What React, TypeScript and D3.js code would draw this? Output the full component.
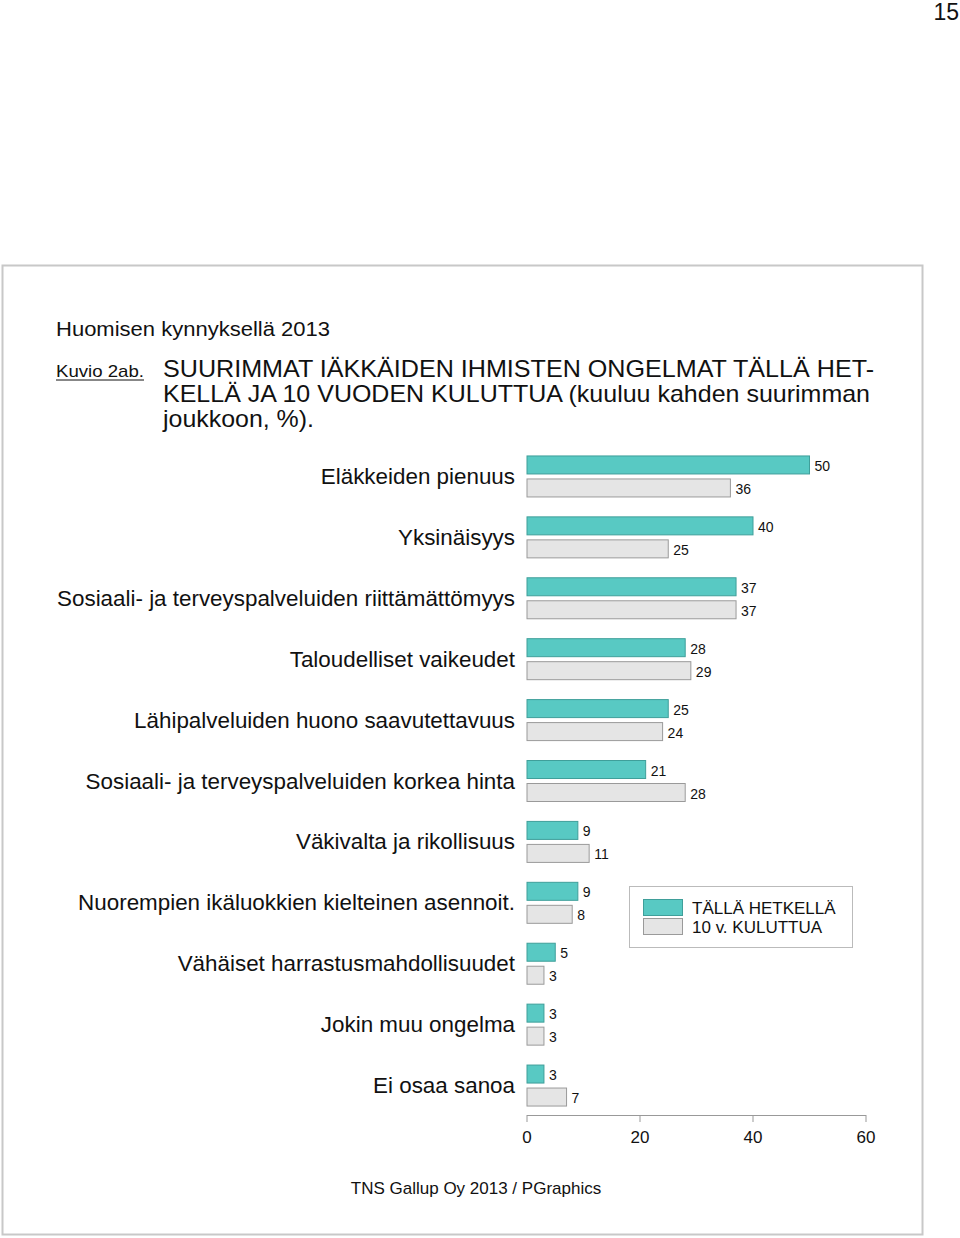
import React from "react";
import * as d3 from "d3";

const categories = [
  "Eläkkeiden pienuus",
  "Yksinäisyys",
  "Sosiaali- ja terveyspalveluiden riittämättömyys",
  "Taloudelliset vaikeudet",
  "Lähipalveluiden huono saavutettavuus",
  "Sosiaali- ja terveyspalveluiden korkea hinta",
  "Väkivalta ja rikollisuus",
  "Nuorempien ikäluokkien kielteinen asennoit.",
  "Vähäiset harrastusmahdollisuudet",
  "Jokin muu ongelma",
  "Ei osaa sanoa",
];
const nowValues = [50, 40, 37, 28, 25, 21, 9, 9, 5, 3, 3];
const futureValues = [36, 25, 37, 29, 24, 28, 11, 8, 3, 3, 7];
const xTicks = [0, 20, 40, 60];
const legendLabels = ["TÄLLÄ HETKELLÄ", "10 v. KULUTTUA"];
const titleLines = [
  "SUURIMMAT IÄKKÄIDEN IHMISTEN ONGELMAT TÄLLÄ HET-",
  "KELLÄ JA 10 VUODEN KULUTTUA (kuuluu kahden suurimman",
  "joukkoon, %).",
];

const TEAL = "#58c9c3";
const TEAL_STROKE = "#3f9f9a";
const GRAY = "#e5e5e5";
const GRAY_STROKE = "#9a9a9a";
const FONT = "'Liberation Sans', Arial, Helvetica, sans-serif";

export default function App() {
  const x = d3.scaleLinear().domain([0, 60]).range([527, 866]);
  const y = d3
    .scaleBand<string>()
    .domain(categories)
    .range([446.5, 1116.5])
    .padding(0);

  return (
    <svg
      width={960}
      height={1238}
      style={{ position: "absolute", left: 0, top: 0, background: "#fff" }}
      fontFamily={FONT}
    >
      <rect x={0} y={0} width={960} height={1238} fill="#fff" />
      <text x={959} y={20} fontSize={23} textAnchor="end" fill="#111">
        15
      </text>
      <rect
        x={2.5}
        y={265.5}
        width={920}
        height={969}
        fill="#fff"
        stroke="#c8c8c8"
        strokeWidth={2}
      />
      <text x={56} y={336} fontSize={20} fill="#111" textLength={274} lengthAdjust="spacingAndGlyphs">
        Huomisen kynnyksellä 2013
      </text>
      <text x={56} y={377} fontSize={17} fill="#111" textLength={88} lengthAdjust="spacingAndGlyphs">
        Kuvio 2ab.
      </text>
      <line x1={56} x2={144} y1={380} y2={380} stroke="#111" strokeWidth={1} />
      {titleLines.map((t, i) => (
        <text
          key={i}
          x={163}
          y={377 + i * 25}
          fontSize={24}
          fill="#111"
          textLength={i === 0 ? 711 : i === 1 ? 707 : 151}
          lengthAdjust="spacingAndGlyphs"
        >
          {t}
        </text>
      ))}

      {categories.map((c, i) => {
        const c0 = (y(c) as number) + y.bandwidth() / 2;
        return (
          <g key={c}>
            <text x={515} y={c0 + 7} fontSize={22.4} textAnchor="end" fill="#111">
              {c}
            </text>
            <rect
              x={x(0)}
              y={c0 - 21}
              width={x(nowValues[i]) - x(0)}
              height={18}
              fill={TEAL}
              stroke={TEAL_STROKE}
              strokeWidth={1}
            />
            <rect
              x={x(0)}
              y={c0 + 2}
              width={x(futureValues[i]) - x(0)}
              height={18}
              fill={GRAY}
              stroke={GRAY_STROKE}
              strokeWidth={1}
            />
            <text x={x(nowValues[i]) + 5} y={c0 - 6} fontSize={14} fill="#111">
              {nowValues[i]}
            </text>
            <text x={x(futureValues[i]) + 5} y={c0 + 17} fontSize={14} fill="#111">
              {futureValues[i]}
            </text>
          </g>
        );
      })}

      <line x1={x(0)} x2={x(60)} y1={1115.5} y2={1115.5} stroke="#999" strokeWidth={1} />
      {xTicks.map((t) => (
        <g key={t}>
          <line x1={x(t)} x2={x(t)} y1={1115} y2={1122} stroke="#999" strokeWidth={1} />
          <text x={x(t)} y={1143} fontSize={17} textAnchor="middle" fill="#111">
            {t}
          </text>
        </g>
      ))}

      <rect x={629.5} y={886.5} width={223} height={61} fill="#fff" stroke="#bbb" strokeWidth={1} />
      <rect x={643.5} y={899.5} width={39} height={16} fill={TEAL} stroke={TEAL_STROKE} />
      <rect x={643.5} y={918.5} width={39} height={16} fill={GRAY} stroke={GRAY_STROKE} />
      <text x={692} y={914} fontSize={17} fill="#111">
        {legendLabels[0]}
      </text>
      <text x={692} y={933} fontSize={17} fill="#111">
        {legendLabels[1]}
      </text>

      <text x={476} y={1194} fontSize={17} textAnchor="middle" fill="#111">
        TNS Gallup Oy 2013 / PGraphics
      </text>
    </svg>
  );
}
